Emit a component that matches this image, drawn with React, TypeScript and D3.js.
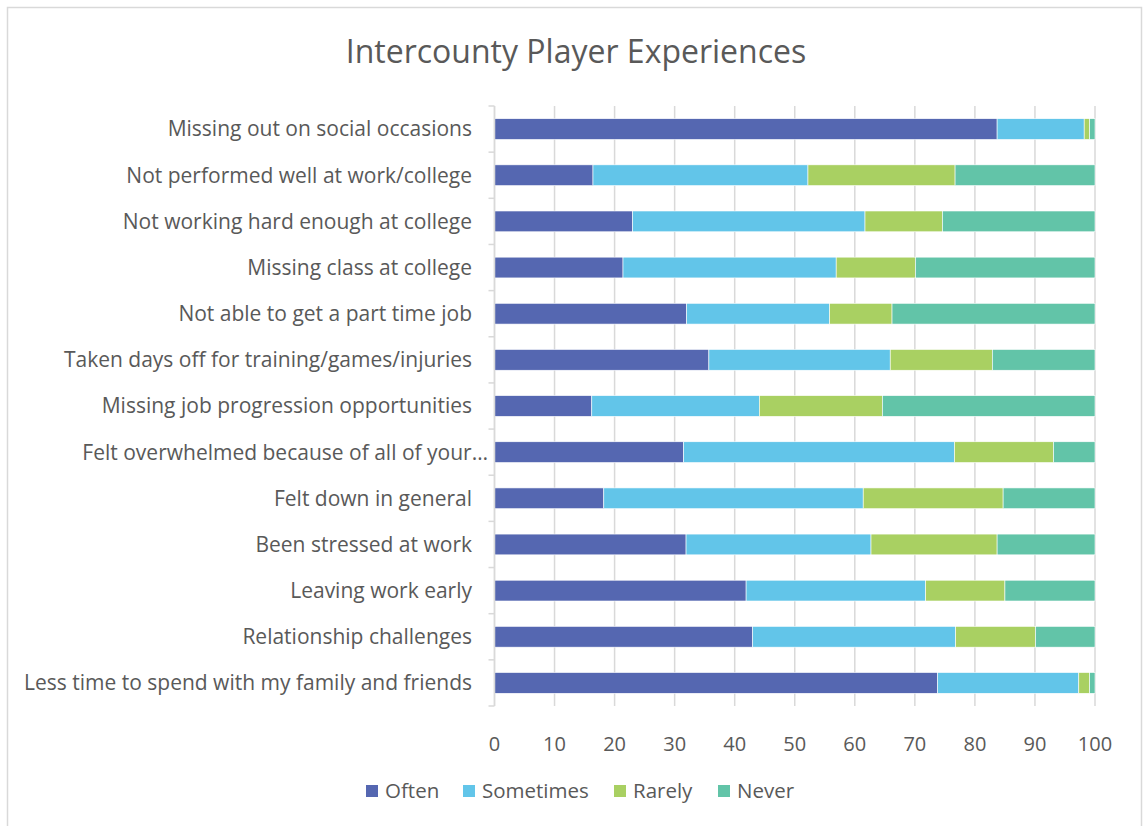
import React from "react";
import * as d3 from "d3";

const categories = [
  "Missing out on social occasions",
  "Not performed well at work/college",
  "Not working hard enough at college",
  "Missing class at college",
  "Not able to get a part time job",
  "Taken days off for training/games/injuries",
  "Missing job progression opportunities",
  "Felt overwhelmed because of all of your…",
  "Felt down in general",
  "Been stressed at work",
  "Leaving work early",
  "Relationship challenges",
  "Less time to spend with my family and friends",
];

const seriesNames = ["Often", "Sometimes", "Rarely", "Never"];
const often = [83.7, 16.4, 23.0, 21.4, 32.0, 35.7, 16.2, 31.5, 18.2, 31.9, 41.9, 43.0, 73.8];
const sometimes = [14.5, 35.8, 38.7, 35.5, 23.8, 30.2, 27.9, 45.1, 43.2, 30.8, 29.9, 33.8, 23.5];
const rarely = [0.9, 24.5, 12.9, 13.2, 10.4, 17.0, 20.5, 16.5, 23.3, 21.0, 13.2, 13.3, 1.8];
const never = [0.9, 23.3, 25.4, 29.9, 33.8, 17.1, 35.4, 6.9, 15.3, 16.3, 15.0, 9.9, 0.9];
const xTicks = [0, 10, 20, 30, 40, 50, 60, 70, 80, 90, 100];
const colors = ["#5567B1", "#62C5E9", "#A9D062", "#62C4A8"];

const W = 1143;
const H = 826;
const left = 494.5;
const right = 1095;
const top = 106;
const bottom = 706;
const FONT = "'Open Sans', sans-serif";
const TXT = "#595959";

export default function App() {
  const rows = categories.map((c, i) => ({
    cat: c,
    Often: often[i],
    Sometimes: sometimes[i],
    Rarely: rarely[i],
    Never: never[i],
  }));
  const stack = d3.stack<any>().keys(seriesNames)(rows);
  const x = d3.scaleLinear().domain([0, 100]).range([left, right]);
  const y = d3.scaleBand().domain(categories).range([top, bottom]).paddingInner(0.55).paddingOuter(0.275);
  const band = d3.scaleBand().domain(categories).range([top, bottom]);
  const legendX = [366, 463, 614, 718];

  return (
    <svg width={W} height={H} style={{ position: "absolute", left: 0, top: 0, background: "#fff" }}>
      <rect x={7.5} y={7.5} width={1134} height={830} fill="#fff" stroke="#d9d9d9" strokeWidth={1.5} />
      <text x={576} y={63} textAnchor="middle" fontFamily={FONT} fontSize={32} fill={TXT}>
        Intercounty Player Experiences
      </text>
      {xTicks.map((t) => (
        <line key={"g" + t} x1={x(t)} x2={x(t)} y1={top} y2={bottom} stroke="#d9d9d9" strokeWidth={1.5} />
      ))}
      {stack.map((s, si) =>
        s.map((d, i) => (
          <rect
            key={si + "-" + i}
            x={x(d[0])}
            width={Math.max(0, x(d[1]) - x(d[0]))}
            y={y(categories[i])}
            height={y.bandwidth()}
            fill={colors[si]}
            stroke="#fff"
            strokeWidth={0.6}
          />
        ))
      )}
      <line x1={left} x2={left} y1={top} y2={bottom} stroke="#d9d9d9" strokeWidth={1.5} />
      {categories.map((c) => (
        <line key={"t" + c} x1={left - 6} x2={left} y1={band(c)} y2={band(c)} stroke="#d9d9d9" strokeWidth={1.5} />
      ))}
      <line x1={left - 6} x2={left} y1={bottom} y2={bottom} stroke="#d9d9d9" strokeWidth={1.5} />
      {categories.map((c, i) => (
        <text
          key={"l" + c}
          x={i === 7 ? 488 : 472}
          y={(y(c) as number) + y.bandwidth() / 2}
          dy="0.35em"
          textAnchor="end"
          fontFamily={FONT}
          fontSize={21}
          fill={TXT}
        >
          {c}
        </text>
      ))}
      {xTicks.map((t) => (
        <text key={"x" + t} x={x(t)} y={751} textAnchor="middle" fontFamily={FONT} fontSize={20} fill={TXT}>
          {t}
        </text>
      ))}
      {seriesNames.map((n, i) => (
        <g key={n}>
          <rect x={legendX[i]} y={785} width={12} height={12} fill={colors[i]} />
          <text x={legendX[i] + 19} y={791} dy="0.35em" fontFamily={FONT} fontSize={20.5} fill={TXT}>
            {n}
          </text>
        </g>
      ))}
    </svg>
  );
}
